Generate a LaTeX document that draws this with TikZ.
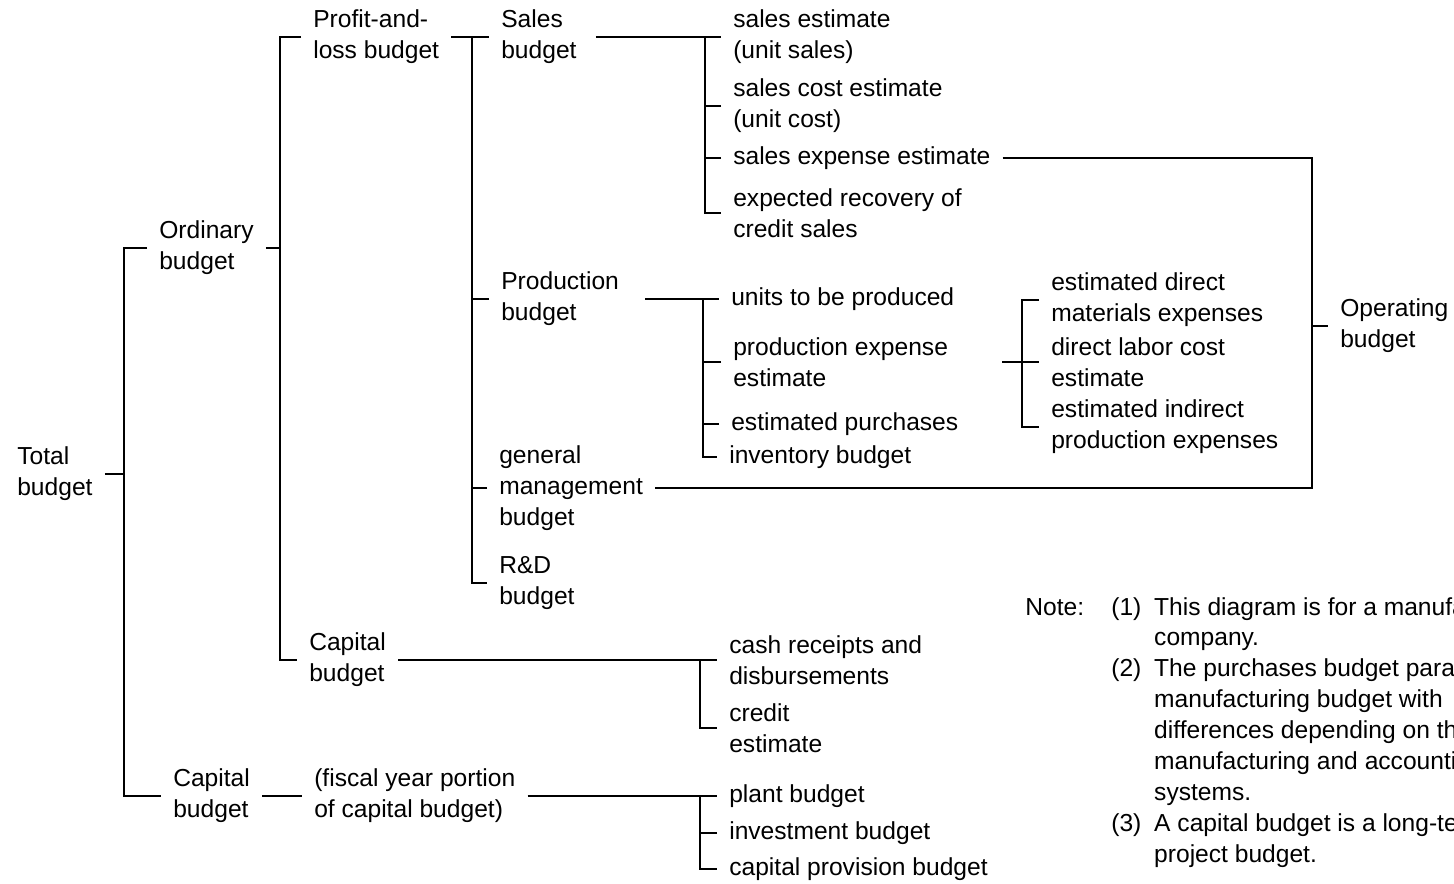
\documentclass[tikz,border=0pt]{standalone}
\usepackage{fontspec}
\setmainfont{Liberation Sans}
\usepackage{array}

\begin{document}
\begin{tikzpicture}[
  x=0.02cm,y=-0.02cm,
  every node/.style={font=\fontsize{14}{17.6}\selectfont,align=left,inner xsep=6.8pt,inner ysep=2pt},
  item/.style={anchor=west},
  link/.style={line width=1pt,color=black}
]
\clip (0,0) rectangle (1454,883);

% spine positions of the brackets
\coordinate (xTot) at (124,0);
\coordinate (xOrd) at (280,0);
\coordinate (xPL) at (472,0);
\coordinate (xSales) at (705,0);
\coordinate (xProd) at (703,0);
\coordinate (xDir) at (1022,0);
\coordinate (xCap) at (700,0);
\coordinate (xOp) at (1312,326);

% first levels
\node[item] (total) at (5,474) {Total\\budget};
\node[item] (ord) at (147,248) {Ordinary\\budget};
\node[item] (capB) at (161,796) {Capital\\budget};
\node[item] (pl) at (301,37) {Profit-and-\\loss budget};
\node[item] (capM) at (297,660) {Capital\\budget};
\node[item] (fy) at (302,796) {(fiscal year portion\\of capital budget)};

\node[item] (sales) at (489,37) {Sales\\budget};
\node[item] (prod) at (489,299) {Production\\budget};
\node[item] (gen) at (487,488) {general\\management\\budget};
\node[item] (rd) at (487,583) {R\&D\\budget};

% sales budget items
\node[item] (salesEst) at (721,37) {sales estimate\\(unit sales)};
\node[item] (costEst) at (721,106) {sales cost estimate\\(unit cost)};
\node[item] (expEst) at (721,158) {sales expense estimate};
\node[item] (recov) at (721,213) {expected recovery of\\credit sales};

% production budget items
\node[item] (units) at (719,299) {units to be produced};
\node[item] (prodExp) at (721,362) {production expense\\estimate};
\node[item] (purch) at (719,424) {estimated purchases};
\node[item] (inv) at (717,457) {inventory budget};

\node[item] (matl) at (1039,300) {estimated direct\\materials expenses};
\node[item] (labor) at (1039,362) {direct labor cost\\estimate};
\node[item] (indir) at (1039,427) {estimated indirect\\production expenses};

\node[item] (oper) at (1328,326) {Operating\\budget};

% capital budget items
\node[item] (cash) at (717,660) {cash receipts and\\disbursements};
\node[item] (credit) at (717,728) {credit\\estimate};
\node[item] (plant) at (717,796) {plant budget};
\node[item] (invest) at (717,833) {investment budget};
\node[item] (cprov) at (717,869) {capital provision budget};

% brackets
\draw[link] (total.east) -- (total.east -| xTot);
\draw[link] (ord.west) -- (ord.west -| xTot) |- (capB.west);
\draw[link] (capB.east) -- (fy.west);

\draw[link] (ord.east) -- (ord.east -| xOrd);
\draw[link] (pl.west) -- (pl.west -| xOrd) |- (capM.west);

\draw[link] (pl.east) -- (sales.west);
\draw[link] (sales.west -| xPL) |- (rd.west);
\foreach \n in {prod,gen}
  \draw[link] (\n.west) -- (\n.west -| xPL);

\draw[link,shorten <=4pt] (sales.east) -- (salesEst.west);
\draw[link] (salesEst.west -| xSales) |- (recov.west);
\foreach \n in {costEst,expEst}
  \draw[link] (\n.west) -- (\n.west -| xSales);

\draw[link,shorten <=8pt] (prod.east) -- (units.west);
\draw[link] (units.west -| xProd) |- (inv.west);
\foreach \n in {prodExp,purch}
  \draw[link] (\n.west) -- (\n.west -| xProd);

\draw[link,shorten <=24pt] (prodExp.east) -- (labor.west);
\draw[link] (matl.west) -- (matl.west -| xDir) |- (indir.west);

% operating budget frame
\draw[link] (expEst.east) -| (xOp) |- (gen.east);
\draw[link] (xOp) -- (oper.west);

\draw[link] (capM.east) -- (cash.west);
\draw[link] (cash.west -| xCap) |- (credit.west);
\draw[link] (fy.east) -- (plant.west);
\draw[link] (plant.west -| xCap) |- (cprov.west);
\draw[link] (invest.west) -- (invest.west -| xCap);

% notes
\node[anchor=base west,inner sep=0pt] (note) at (1025,615) {Note:};
\node[anchor=base west,inner sep=0pt] (notes) at (1111,615) {%
  \begin{tabular}[t]{@{}p{24.4pt}@{}l@{}}
  (1) & This diagram is for a manufacturing\\
      & company.\\
  (2) & The purchases budget parallels the\\
      & manufacturing budget with\\
      & differences depending on the\\
      & manufacturing and accounting\\
      & systems.\\
  (3) & A capital budget is a long-term\\
      & project budget.
  \end{tabular}};
\end{tikzpicture}
\end{document}
